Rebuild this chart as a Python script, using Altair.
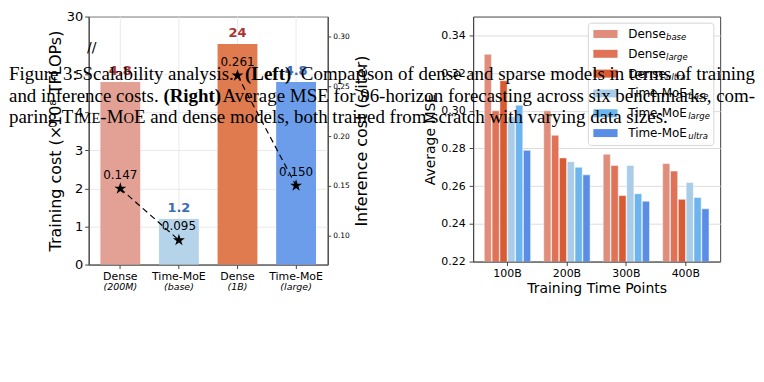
import altair as alt
import pandas as pd

# ---------------- Left panel data ----------------
model_keys = ["Dense (200M)", "Time-MoE (base)", "Dense (1B)", "Time-MoE (large)"]
model_sizes = ["(200M)", "(base)", "(1B)", "(large)"]
model_kind = ["dense", "moe", "dense", "moe"]
model_pair = ["small", "small", "big", "big"]
training_cost = [4.8, 1.2, 24, 4.8]          # x10^8 TFLOPs
inference_cost = [0.147, 0.095, 0.261, 0.150]  # s/iter
left_bar_colors = ["#E2A194", "#B5D4EA", "#E07B4F", "#6C9DEB"]

# broken axis: 0..5 linear, break, top tick "30"
BREAK_AT = 5.8
TOP_DISPLAY = 6.52
left_ticks = [0, 1, 2, 3, 4, 5, TOP_DISPLAY]
right_ticks = [0.10, 0.15, 0.20, 0.25, 0.30]

# ---------------- Right panel data ----------------
time_points = ["100B", "200B", "300B", "400B"]
series = ["Dense_base", "Dense_large", "Dense_ultra", "TM_base", "TM_large", "TM_ultra"]
series_main = ["Dense", "Dense", "Dense", "Time-MoE", "Time-MoE", "Time-MoE"]
series_sub = ["base", "large", "ultra", "base", "large", "ultra"]
mse_dense_base = [0.330, 0.300, 0.277, 0.272]
mse_dense_large = [0.300, 0.287, 0.271, 0.268]
mse_dense_ultra = [0.316, 0.275, 0.255, 0.253]
mse_tm_base = [0.297, 0.273, 0.271, 0.262]
mse_tm_large = [0.303, 0.270, 0.256, 0.254]
mse_tm_ultra = [0.279, 0.266, 0.252, 0.248]
series_colors = ["#E08E7B", "#DF7257", "#D95B33", "#A9CDE8", "#6DB5EE", "#5A8EE6"]
mse_ticks = [0.22, 0.24, 0.26, 0.28, 0.30, 0.32, 0.34]

# ---------------- Caption text ----------------
cap_l1_a = "Figure 3:  Scalability analysis."
cap_l1_b = "(Left)"
cap_l1_c = "Comparison of dense and sparse models in terms of training"
cap_l2_a = "and inference costs."
cap_l2_b = "(Right)"
cap_l2_c = "Average MSE for 96-horizon forecasting across six benchmarks, com-"
cap_l3 = ["paring T", "IME", "-M", "O",
          "E and dense models, both trained from scratch with varying data sizes."]

SANS = "DejaVu Sans"
SERIF = "Liberation Serif"
RED = "#A93434"
BLUE = "#3C6CB4"
FRAME = "#444444"
GRID = "#E4E4E4"
STAR = ("M0,-1L0.2245,-0.309L0.9511,-0.309L0.3633,0.118L0.5878,0.809L0,0.382"
        "L-0.5878,0.809L-0.3633,0.118L-0.9511,-0.309L-0.2245,-0.309Z")
one = alt.Data(values=[{"k": 1}])

# =============== Left chart (flat layer, independent y scales) ===============
left_df = pd.DataFrame({
    "key": model_keys, "size": model_sizes, "kind": model_kind, "pair": model_pair,
    "train": training_cost, "inf": inference_cost,
})
W1, H1 = 240, 249

base_left = alt.Chart(left_df).transform_calculate(
    disp=f"min(datum.train, {BREAK_AT})",
    g0="0",
    g1=f"{TOP_DISPLAY}",
    brk=f"{BREAK_AT - 0.1}",
)
x_left = alt.X(
    "key:N", sort=model_keys,
    scale=alt.Scale(domain=model_keys, paddingInner=0.32, paddingOuter=0.2),
    axis=alt.Axis(title=None, labelExpr="slice(datum.label, 0, indexof(datum.label, ' '))",
                  labelAngle=0, labelFontSize=11, labelPadding=2, tickSize=4, grid=False),
)


def ydisp(field, axis=None):
    return alt.Y(field, scale=alt.Scale(domain=[0, TOP_DISPLAY], nice=False, zero=True), axis=axis)


left_axis = alt.Axis(values=left_ticks, title="Training cost (×10⁸ TFLOPs)",
                     labelExpr="datum.value > 6 ? '30' : format(datum.value, 'd')",
                     labelFontSize=13, tickSize=4, labelPadding=2, titleFontSize=16,
                     titlePadding=3, grid=True, gridColor=GRID, gridWidth=0.8)

vgrid = base_left.mark_rule(color=GRID, strokeWidth=0.8).encode(
    x=x_left, y=ydisp("g0:Q"), y2="g1:Q",
)
bars = base_left.mark_bar().encode(
    x=x_left, y=ydisp("disp:Q", left_axis),
    color=alt.Color("key:N", scale=alt.Scale(domain=model_keys, range=left_bar_colors), legend=None),
)
bar_labels = base_left.mark_text(dy=-4, baseline="bottom", fontWeight="bold", fontSize=13).encode(
    x=x_left, y=ydisp("disp:Q"),
    text=alt.Text("train:Q", format="~g"),
    color=alt.condition("datum.kind == 'dense'", alt.value(RED), alt.value(BLUE)),
)
size_labels = base_left.mark_text(baseline="alphabetic", dy=26, fontSize=9.5, fontStyle="italic").encode(
    x=x_left, y=ydisp("g0:Q"), text="size:N",
)
break_mark = base_left.transform_filter("datum.kind == 'dense' && datum.train > 20").mark_text(
    text="//", fontSize=14, align="center", baseline="middle", color="black"
).encode(x=alt.value(3), y=ydisp("brk:Q"))


def yinf(axis=None):
    return alt.Y("inf:Q", scale=alt.Scale(domain=[0.0704, 0.3205], nice=False, zero=False), axis=axis)


inf_axis = alt.Axis(orient="right", values=right_ticks, format=".2f", labelFontSize=7.5,
                    tickSize=3, labelPadding=2, title="Inference cost (s/iter)",
                    titleFontSize=16, titleAngle=270, titleBaseline="top", titlePadding=4,
                    grid=False)
inf_line = base_left.mark_line(strokeDash=[6, 4], color="black", strokeWidth=1.2).encode(
    x=x_left, y=yinf(inf_axis), detail="pair:N",
)
inf_stars = base_left.mark_point(shape=STAR, filled=True, color="black", size=160, opacity=1).encode(
    x=x_left, y=yinf(),
)
inf_labels = base_left.mark_text(dy=-10, baseline="alphabetic", fontSize=12, color="black").encode(
    x=x_left, y=yinf(), text=alt.Text("inf:Q", format=".3f"),
)

left_chart = alt.layer(
    vgrid, bars, bar_labels, size_labels, break_mark, inf_line, inf_stars, inf_labels
).resolve_scale(y="independent").properties(width=W1, height=H1)

# =============== Right chart ===============
mse_values = [mse_dense_base, mse_dense_large, mse_dense_ultra, mse_tm_base, mse_tm_large, mse_tm_ultra]
rows = []
for s, vals in zip(series, mse_values):
    for t, v in zip(time_points, vals):
        rows.append({"time": t, "series": s, "mse": v})
mse_df = pd.DataFrame(rows)
W2, H2 = 248, 246

mse_bars = alt.Chart(mse_df).mark_bar(clip=True, stroke="white", strokeWidth=0.5).encode(
    x=alt.X("time:N", sort=time_points,
            scale=alt.Scale(paddingInner=0.22, paddingOuter=0.187),
            axis=alt.Axis(title="Training Time Points", labelAngle=0, labelFontSize=11,
                          titleFontSize=14, tickSize=4, labelPadding=2, titlePadding=3)),
    xOffset=alt.XOffset("series:N", sort=series, scale=alt.Scale(paddingInner=0.08)),
    y=alt.Y("mse:Q", scale=alt.Scale(domain=[0.22, 0.35], nice=False, zero=False),
            axis=alt.Axis(values=mse_ticks, format=".2f", title="Average MSE", labelFontSize=11,
                          titleFontSize=14, tickSize=4, labelPadding=4, titlePadding=3)),
    color=alt.Color("series:N", scale=alt.Scale(domain=series, range=series_colors), legend=None),
)

# manual legend (subscripted labels), laid out in pixels inside the plot
LEG_X, LEG_Y0, LEG_DY = 155.7, 17.5, 19.9
SUB_DX = {"Dense": 38, "Time-MoE": 60.3}
legend_layers = [
    alt.Chart(one).mark_rect(fill="white", stroke="#D6D6D6", strokeWidth=1, cornerRadius=3).encode(
        x=alt.value(115.7), x2=alt.value(241.7), y=alt.value(6.7), y2=alt.value(129.4))
]
for i, (col, main, sub) in enumerate(zip(series_colors, series_main, series_sub)):
    yc = LEG_Y0 + i * LEG_DY
    legend_layers.append(alt.Chart(one).mark_rect(color=col).encode(
        x=alt.value(120.7), x2=alt.value(145), y=alt.value(yc - 4), y2=alt.value(yc + 4)))
    legend_layers.append(alt.Chart(one).mark_text(
        text=main, align="left", baseline="middle", fontSize=12, color="black"
    ).encode(x=alt.value(LEG_X), y=alt.value(yc)))
    legend_layers.append(alt.Chart(one).mark_text(
        text=sub, align="left", baseline="middle", dy=3, fontSize=8.5, fontStyle="italic", color="black"
    ).encode(x=alt.value(LEG_X + SUB_DX[main]), y=alt.value(yc)))

right_chart = alt.layer(mse_bars, *legend_layers).properties(width=W2, height=H2)

# =============== Caption ===============
CAP = 19
SC = 14.6


def cap_text(txt, x, y, align="left", weight="normal", size=CAP):
    return alt.Chart(one).mark_text(
        text=txt, align=align, baseline="alphabetic", font=SERIF, fontSize=size,
        fontWeight=weight, color="black",
    ).encode(x=alt.value(x), y=alt.value(y))


X0 = -80
XR = 669
B1, B2, B3 = 30, 51.5, 73
caption = alt.layer(
    cap_text(cap_l1_a, X0, B1),
    cap_text(cap_l1_b, 157, B1, weight="bold"),
    cap_text(cap_l1_c, XR, B1, align="right"),
    cap_text(cap_l2_a, X0, B2),
    cap_text(cap_l2_b, 75, B2, weight="bold"),
    cap_text(cap_l2_c, XR, B2, align="right"),
    cap_text(cap_l3[0], X0, B3),
    cap_text(cap_l3[1], -15.1, B3, size=SC),
    cap_text(cap_l3[2], 11.7, B3),
    cap_text(cap_l3[3], 34.9, B3, size=SC),
    cap_text(cap_l3[4], 45.4, B3),
).properties(width=634, height=60, view=alt.ViewBackground(stroke="transparent"))

top_row = alt.hconcat(left_chart, right_chart, spacing=146, bounds="flush").resolve_scale(
    color="independent"
)
chart = alt.vconcat(top_row, caption, spacing=34, bounds="flush").resolve_scale(
    color="independent"
).properties(
    padding={"left": 0, "top": 1, "right": 0, "bottom": 0}
).configure_view(stroke=FRAME, strokeWidth=1).configure_axis(
    labelFont=SANS, titleFont=SANS, labelColor="black", titleColor="black",
    titleFontWeight="normal", domainColor=FRAME, tickColor=FRAME,
).configure_text(font=SANS)

chart.save("out.html", embed_options={"renderer": "svg", "actions": False})
